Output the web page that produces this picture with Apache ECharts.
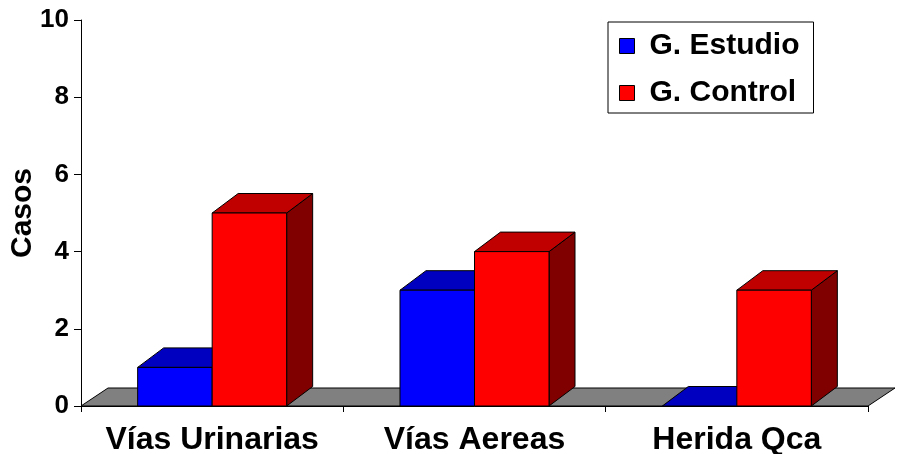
<!DOCTYPE html>
<html>
<head>
<meta charset="utf-8">
<title>Casos</title>
<script src="https://cdn.jsdelivr.net/npm/echarts@6/dist/echarts.min.js"></script>
<style>
  html, body { margin: 0; padding: 0; background: #fff; }
  #chart { width: 897px; height: 454px; }
</style>
</head>
<body>
<div id="chart"></div>
<script>
// Categories and values
const categories = ['Vías Urinarias', 'Vías Aereas', 'Herida Qca'];
const estudio = [1, 3, 0];
const control = [5, 4, 3];
const seriesNames = ['G. Estudio', 'G. Control'];
const yTicks = { min: 0, max: 10, interval: 2 };

const FONT = "'Liberation Sans', Arial, Helvetica, sans-serif";

// 3D look: depth offset of bars and floor (pixels)
const BAR_DX = 26, BAR_DY = -19.5;
const FLOOR_DX = 27, FLOOR_DY = -18;
const BAR_FRAC = 0.284; // bar width as a fraction of the category band

const palettes = [
  { front: '#0000FF', top: '#0000C0', side: '#000080' },
  { front: '#FF0000', top: '#C00000', side: '#800000' }
];

function makeBarRenderer(slot, pal) {
  return function (params, api) {
    const idx = api.value(0);
    const v = api.value(1);
    const base = api.coord([idx, 0]);
    const top = api.coord([idx, v]);
    const band = api.size([1, 0])[0];
    const w = band * BAR_FRAC;
    const x0 = base[0] + (slot - 1) * w;
    const x1 = x0 + w;
    const yb = base[1], yt = top[1];
    const stroke = { stroke: '#000', lineWidth: 1, lineJoin: 'round' };
    const children = [];
    if (v > 0) {
      children.push({
        type: 'polygon',
        shape: { points: [[x1, yt], [x1 + BAR_DX, yt + BAR_DY], [x1 + BAR_DX, yb + BAR_DY], [x1, yb]] },
        style: Object.assign({ fill: pal.side }, stroke)
      });
    }
    children.push({
      type: 'polygon',
      shape: { points: [[x0, yt], [x1, yt], [x1 + BAR_DX, yt + BAR_DY], [x0 + BAR_DX, yt + BAR_DY]] },
      style: Object.assign({ fill: pal.top }, stroke)
    });
    if (v > 0) {
      children.push({
        type: 'rect',
        shape: { x: x0, y: yt, width: w, height: yb - yt },
        style: Object.assign({ fill: pal.front }, stroke)
      });
    }
    return { type: 'group', children: children };
  };
}

function renderFloor(params, api) {
  const cs = params.coordSys;
  const yb = cs.y + cs.height;
  const xl = cs.x, xr = cs.x + cs.width;
  return {
    type: 'polygon',
    shape: { points: [[xl, yb], [xr, yb], [xr + FLOOR_DX, yb + FLOOR_DY], [xl + FLOOR_DX, yb + FLOOR_DY]] },
    style: { fill: '#808080', stroke: '#000', lineWidth: 1 }
  };
}

const chart = echarts.init(document.getElementById('chart'), null, { renderer: 'canvas' });

chart.setOption({
  animation: false,
  backgroundColor: '#fff',
  grid: { left: 81, right: 29, top: 20, bottom: 48, containLabel: false, outerBoundsMode: 'none' },
  legend: {
    data: seriesNames,
    orient: 'vertical',
    left: 608,
    top: 22,
    padding: [9, 14, 5, 11],
    itemGap: 17,
    itemWidth: 15,
    itemHeight: 15,
    icon: 'rect',
    borderColor: '#000',
    borderWidth: 1,
    itemStyle: { borderColor: '#000', borderWidth: 1 },
    textStyle: { fontFamily: FONT, fontWeight: 'bold', fontSize: 30, lineHeight: 30, color: '#000', padding: [0, 0, 0, 10] },
    selectedMode: false
  },
  xAxis: {
    type: 'category',
    data: categories,
    boundaryGap: true,
    axisLine: { show: true, lineStyle: { color: '#000', width: 1 } },
    axisTick: { show: true, length: 6, lineStyle: { color: '#000' } },
    axisLabel: { interval: 0, hideOverlap: false, fontFamily: FONT, fontWeight: 'bold', fontSize: 32, color: '#000', margin: 18 },
    splitLine: { show: false }
  },
  yAxis: {
    type: 'value',
    min: yTicks.min,
    max: yTicks.max,
    interval: yTicks.interval,
    name: 'Casos',
    nameLocation: 'middle',
    nameRotate: 90,
    nameGap: 43,
    nameMoveOverlap: false,
    nameTextStyle: { fontFamily: FONT, fontWeight: 'bold', fontSize: 30, color: '#000' },
    axisLine: { show: true, lineStyle: { color: '#000', width: 1 } },
    axisTick: { show: true, length: 7, lineStyle: { color: '#000' } },
    axisLabel: { fontFamily: FONT, fontWeight: 'bold', fontSize: 26, color: '#000', margin: 12 },
    splitLine: { show: false }
  },
  series: [
    {
      type: 'custom',
      name: 'floor',
      renderItem: renderFloor,
      data: [[0, 0]],
      encode: { x: 0, y: 1 },
      clip: false,
      silent: true,
      z: 1
    },
    {
      type: 'custom',
      name: seriesNames[0],
      renderItem: makeBarRenderer(0, palettes[0]),
      data: estudio.map((v, i) => [i, v]),
      encode: { x: 0, y: 1 },
      itemStyle: { color: palettes[0].front, borderColor: '#000', borderWidth: 1 },
      clip: false,
      z: 2
    },
    {
      type: 'custom',
      name: seriesNames[1],
      renderItem: makeBarRenderer(1, palettes[1]),
      data: control.map((v, i) => [i, v]),
      encode: { x: 0, y: 1 },
      itemStyle: { color: palettes[1].front, borderColor: '#000', borderWidth: 1 },
      clip: false,
      z: 3
    }
  ]
});
</script>
</body>
</html>
